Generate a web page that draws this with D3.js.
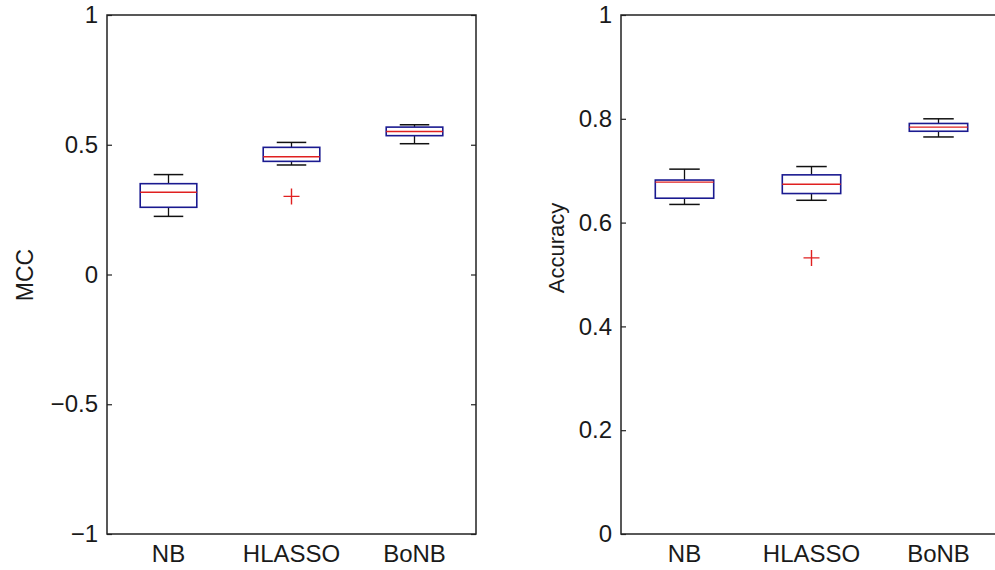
<!DOCTYPE html>
<html>
<head>
<meta charset="utf-8">
<script src="https://cdn.jsdelivr.net/npm/d3@7"></script>
<style>
  body { margin: 0; background: #fff; }
  svg { display: block; }
</style>
</head>
<body>
<svg id="chart" width="995" height="570"></svg>
<script>
var methods = ["NB", "HLASSO", "BoNB"];

// MCC panel
var mccLowerWhisker = [0.224, 0.422, 0.504];
var mccQ1 = [0.259, 0.436, 0.535];
var mccMedian = [0.317, 0.454, 0.551];
var mccQ3 = [0.350, 0.490, 0.568];
var mccUpperWhisker = [0.385, 0.509, 0.577];
var mccOutliers = [[], [0.301], []];
var mccTicks = [-1, -0.5, 0, 0.5, 1];

// Accuracy panel
var accLowerWhisker = [0.635, 0.643, 0.765];
var accQ1 = [0.647, 0.656, 0.776];
var accMedian = [0.678, 0.674, 0.784];
var accQ3 = [0.682, 0.692, 0.791];
var accUpperWhisker = [0.703, 0.708, 0.800];
var accOutliers = [[], [0.532], []];
var accTicks = [0, 0.2, 0.4, 0.6, 0.8, 1];

var svg = d3.select("#chart");
var font = "Liberation Sans, Arial, sans-serif";

function fmt(d) { return String(d).replace("-", "\u2212"); }

function panel(opt) {
  var x = d3.scaleBand().domain(methods).range([opt.left, opt.right]).padding(0);
  var y = d3.scaleLinear().domain(opt.domain).range([opt.bottom, opt.top]);
  var g = svg.append("g");
  var bw = x.bandwidth();

  var stats = methods.map((m, i) => ({
    name: m,
    lo: opt.lo[i], q1: opt.q1[i], med: opt.med[i], q3: opt.q3[i], hi: opt.hi[i],
    out: opt.out[i]
  }));

  // left axis with inward ticks
  var ax = g.append("g")
    .attr("transform", "translate(" + opt.left + ",0)")
    .call(d3.axisLeft(y).tickValues(opt.ticks).tickFormat(fmt)
      .tickSizeInner(-5).tickSizeOuter(0).tickPadding(9));
  ax.select(".domain").remove();
  ax.selectAll("line").attr("stroke", "#222").attr("stroke-width", 1.2);
  ax.selectAll("text").attr("font-family", font).attr("font-size", 24).attr("fill", "#1a1a1a");

  // right side ticks
  var axr = g.append("g")
    .attr("transform", "translate(" + opt.right + ",0)")
    .call(d3.axisRight(y).tickValues(opt.ticks).tickFormat("")
      .tickSizeInner(-5).tickSizeOuter(0));
  axr.select(".domain").remove();
  axr.selectAll("line").attr("stroke", "#222").attr("stroke-width", 1.2);

  // frame
  g.append("rect")
    .attr("x", opt.left).attr("y", opt.top)
    .attr("width", opt.right - opt.left).attr("height", opt.bottom - opt.top)
    .attr("fill", "none").attr("stroke", "#222").attr("stroke-width", 1.5);

  // category labels
  g.selectAll(".xl").data(methods).enter().append("text")
    .attr("x", d => x(d) + bw / 2)
    .attr("y", opt.bottom + 28)
    .attr("text-anchor", "middle")
    .attr("font-family", font).attr("font-size", 24).attr("fill", "#1a1a1a")
    .text(d => d);

  // y label
  g.append("text")
    .attr("transform", "translate(" + opt.labelX + "," + opt.labelY + ") rotate(-90)")
    .attr("text-anchor", "middle")
    .attr("font-family", font).attr("font-size", opt.labelSize).attr("fill", "#1a1a1a")
    .text(opt.label);

  var boxW = bw * 0.46, capW = bw * 0.24;
  var b = g.selectAll(".box").data(stats).enter().append("g");
  var cx = d => x(d.name) + bw / 2;

  // whiskers
  b.append("line").attr("x1", cx).attr("x2", cx)
    .attr("y1", d => y(d.q3)).attr("y2", d => y(d.hi))
    .attr("stroke", "#111").attr("stroke-width", 1.3);
  b.append("line").attr("x1", cx).attr("x2", cx)
    .attr("y1", d => y(d.q1)).attr("y2", d => y(d.lo))
    .attr("stroke", "#111").attr("stroke-width", 1.3);
  b.append("line").attr("x1", d => cx(d) - capW / 2).attr("x2", d => cx(d) + capW / 2)
    .attr("y1", d => y(d.hi)).attr("y2", d => y(d.hi))
    .attr("stroke", "#111").attr("stroke-width", 1.5);
  b.append("line").attr("x1", d => cx(d) - capW / 2).attr("x2", d => cx(d) + capW / 2)
    .attr("y1", d => y(d.lo)).attr("y2", d => y(d.lo))
    .attr("stroke", "#111").attr("stroke-width", 1.5);

  // box
  b.append("rect")
    .attr("x", d => cx(d) - boxW / 2)
    .attr("y", d => y(d.q3))
    .attr("width", boxW)
    .attr("height", d => y(d.q1) - y(d.q3))
    .attr("fill", "#fff").attr("stroke", "#1a1a90").attr("stroke-width", 1.6);

  // median
  b.append("line").attr("x1", d => cx(d) - boxW / 2).attr("x2", d => cx(d) + boxW / 2)
    .attr("y1", d => y(d.med)).attr("y2", d => y(d.med))
    .attr("stroke", "#e02020").attr("stroke-width", 1.4);

  // outliers as "+"
  b.each(function(d) {
    var s = d3.select(this);
    d.out.forEach(v => {
      s.append("path")
        .attr("d", "M" + (cx(d) - 8) + "," + y(v) + "h16M" + cx(d) + "," + (y(v) - 8) + "v16")
        .attr("stroke", "#e02020").attr("stroke-width", 1.4).attr("fill", "none");
    });
  });
}

panel({
  left: 107, right: 476, top: 15, bottom: 534,
  domain: [-1, 1], ticks: mccTicks,
  lo: mccLowerWhisker, q1: mccQ1, med: mccMedian, q3: mccQ3, hi: mccUpperWhisker, out: mccOutliers,
  label: "MCC", labelX: 33, labelY: 275, labelSize: 23
});

panel({
  left: 621, right: 1002, top: 15, bottom: 534,
  domain: [0, 1], ticks: accTicks,
  lo: accLowerWhisker, q1: accQ1, med: accMedian, q3: accQ3, hi: accUpperWhisker, out: accOutliers,
  label: "Accuracy", labelX: 564, labelY: 248, labelSize: 22
});
</script>
</body>
</html>
